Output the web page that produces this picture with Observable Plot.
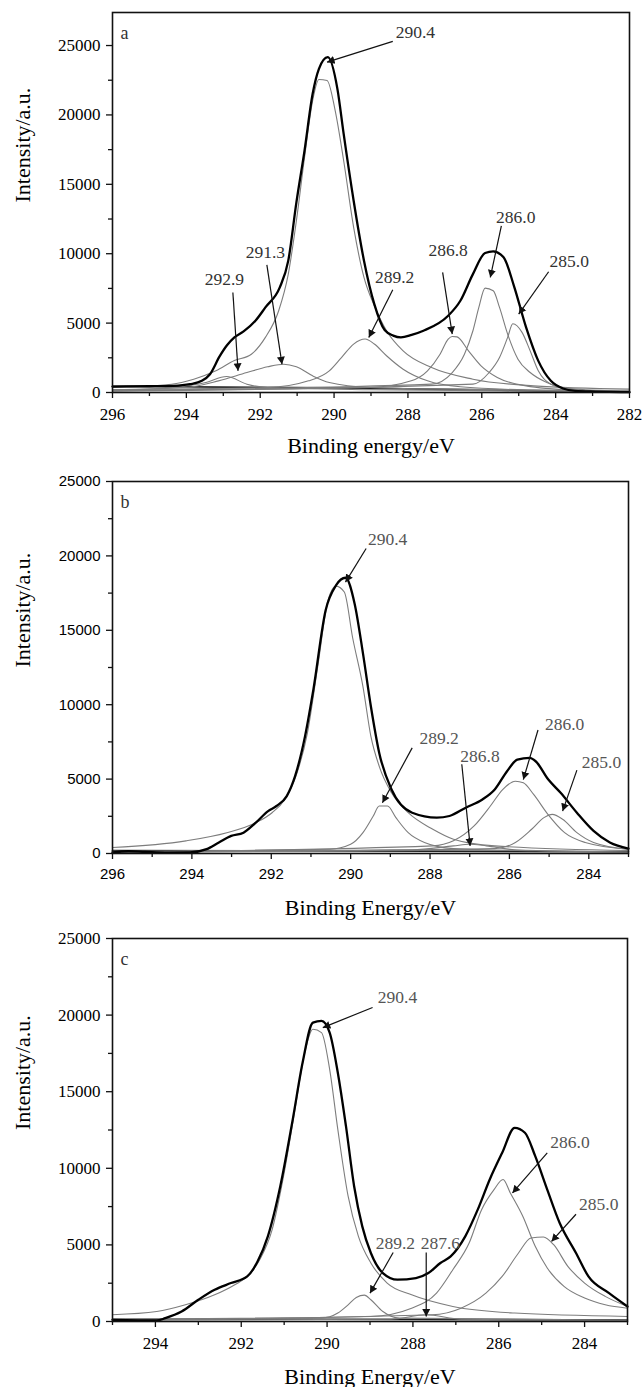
<!DOCTYPE html>
<html><head><meta charset="utf-8">
<script src="https://cdn.jsdelivr.net/npm/d3@7"></script>
<script src="https://cdn.jsdelivr.net/npm/@observablehq/plot@0.6"></script>
<style>
html,body{margin:0;padding:0;background:#fff;}
#charts svg{display:block;}
</style>
</head><body><div id="charts"></div>
<script>
// ---------- Panel a (binding energy eV, intensity a.u.) ----------
const aEnvelope = [[296,430],[295,450],[294.36,480],[293.9,600],[293.58,840],[293.36,1320],[293.1,2600],[292.9,3400],[292.7,3970],[292.45,4400],[292.13,5170],[291.86,6130],[291.47,7570],[291.24,9500],[291.02,13700],[290.8,17430],[290.58,21520],[290.41,23320],[290.17,24160],[289.91,21880],[289.74,18630],[289.47,13820],[289.19,9500],[288.91,6370],[288.63,4500],[288.4,4100],[288.19,3970],[287.9,4150],[287.58,4450],[286.91,5530],[286.58,6610],[286.24,8530],[285.91,10050],[285.69,10170],[285.41,9740],[285.13,7690],[284.8,4690],[284.47,2280],[284.13,840],[283.8,290],[283.47,120],[282.91,70],[282,25]];
const a290_4 = [[296,360],[294.4,600],[293.8,960],[293.2,1560],[292.7,2300],[292.24,2760],[291.86,3970],[291.5,5890],[291.24,8530],[291.02,12380],[290.8,16940],[290.58,21030],[290.41,22550],[290.19,22480],[289.97,20310],[289.74,16700],[289.47,11900],[289.19,8290],[288.91,6250],[288.58,4450],[288.13,3000],[287.36,1800],[286.24,960],[284.6,480],[282,240]];
const a292_9 = [[296,150],[294.36,360],[293.47,720],[292.91,1150],[292.36,600],[291.8,360],[289,200],[282,60]];
const a291_3 = [[296,200],[294.02,360],[293.13,840],[292.36,1440],[291.8,1850],[291.36,2040],[291.02,1850],[290.58,1200],[290.13,720],[289.02,360],[286.8,240],[282,100]];
const a289_2 = [[296,200],[291.8,360],[290.69,840],[290.13,1560],[289.8,2520],[289.47,3490],[289.16,3850],[288.91,3490],[288.58,2650],[288.13,1680],[287.47,840],[286.58,410],[284.58,170],[282,80]];
const a286_8 = [[296,150],[289.02,360],[287.91,840],[287.47,1560],[287.13,2760],[286.91,3850],[286.8,4040],[286.67,4010],[286.36,3000],[286.02,1920],[285.58,1080],[284.8,480],[283.47,170],[282,80]];
const a286_0 = [[296,150],[287.36,600],[286.8,1440],[286.47,2760],[286.24,4450],[286.08,6130],[285.91,7520],[285.69,7330],[285.52,6130],[285.3,4210],[285.02,2400],[284.69,1440],[284.24,720],[283.47,240],[282,80]];
const a285_0 = [[296,100],[286.24,600],[285.8,1440],[285.52,2520],[285.3,3970],[285.16,4950],[284.91,4330],[284.69,3000],[284.47,1560],[284.13,600],[283.47,170],[282,70]];
const aBackground = [[296,450],[290,330],[286,200],[284,80],[282,30]];
// label, label E, label I, arrow-from E, I, arrow-to E, I
const aNotes = [
  ["290.4",287.8,25960,288.41,25300,290.19,23800],
  ["292.9",292.97,8170,292.74,7200,292.6,1560],
  ["291.3",291.86,10100,291.82,9200,291.41,2040],
  ["289.2",288.36,8290,288.41,7400,289.06,3970],
  ["286.8",286.91,10220,287.06,8650,286.8,4210],
  ["286.0",285.08,12620,285.47,12000,285.77,8290],
  ["285.0",283.63,9420,284.19,8700,285.0,5650]
];

// ---------- Panel b ----------
const bEnvelope = [[296,70],[295.6,150],[295.19,110],[294.6,60],[294.05,70],[293.63,290],[293.32,740],[293.01,1180],[292.7,1400],[292.39,2070],[292.08,2850],[291.87,3190],[291.61,3860],[291.4,5200],[291.15,7870],[290.94,11000],[290.63,16350],[290.37,18020],[290.13,18530],[289.9,16790],[289.69,13450],[289.49,9880],[289.28,6760],[288.97,4300],[288.45,2740],[287.83,2410],[287.51,2520],[287.1,3080],[286.68,3630],[286.37,4300],[286.06,5530],[285.8,6310],[285.49,6420],[285.34,6200],[285.02,4970],[284.71,4080],[284.3,2740],[283.88,1520],[283.47,740],[283,330]];
const b290_4 = [[296,400],[294.15,850],[293.12,1400],[292.39,2070],[291.98,2740],[291.66,3630],[291.35,5420],[291.09,8090],[290.83,12550],[290.57,17010],[290.37,17970],[290.16,17570],[289.95,14500],[289.69,11220],[289.49,7870],[289.28,5860],[288.97,4080],[288.55,2740],[287.93,1630],[287.41,960],[286.37,510],[283,200]];
const b289_2 = [[296,150],[290.52,290],[290.0,620],[289.69,1400],[289.43,2520],[289.28,3190],[289.07,3190],[288.86,2410],[288.55,1400],[288.14,740],[287.41,330],[285.34,180],[283,100]];
const b286_8 = [[296,100],[288.45,250],[287.41,510],[287.0,620],[286.58,510],[285.85,250],[283,80]];
const b286_0 = [[296,100],[287.93,510],[287.41,850],[286.89,1850],[286.48,3190],[286.17,4300],[285.85,4860],[285.65,4750],[285.39,3970],[285.03,2630],[284.61,1400],[284.09,740],[283,290]];
const b285_0 = [[296,80],[286.37,330],[285.85,740],[285.44,1630],[285.13,2410],[284.92,2630],[284.66,2300],[284.3,1400],[283.88,740],[283,290]];
const bBackground = [[296,200],[290,170],[283,120]];
const bNotes = [
  ["290.4",289.07,21140,289.61,20500,290.13,18240],
  ["289.2",287.77,7760,288.45,7100,289.2,3410],
  ["286.8",286.74,6530,287.2,6000,286.99,510],
  ["286.0",284.61,8650,285.28,8300,285.65,4970],
  ["285.0",283.68,6090,284.3,5600,284.66,2850]
];

// ---------- Panel c ----------
const cEnvelope = [[295,110],[293.97,65],[293.77,220],[293.39,650],[293.0,1420],[292.62,2070],[292.24,2510],[291.86,2940],[291.62,3920],[291.38,5560],[291.09,8830],[290.8,13190],[290.57,16900],[290.33,19510],[290.13,19620],[289.94,18860],[289.75,16240],[289.56,12750],[289.37,8830],[289.18,6210],[288.98,4470],[288.7,3160],[288.36,2730],[287.93,2830],[287.64,3160],[287.36,3820],[287.12,4250],[286.78,5560],[286.49,7300],[286.21,9270],[285.92,11010],[285.63,12640],[285.39,12320],[285.15,10790],[284.87,8610],[284.58,6430],[284.2,4470],[283.91,2940],[283.43,1850],[283,980]];
const c290_4 = [[295,440],[293.97,650],[293.3,1090],[292.62,1740],[292.15,2400],[291.86,2940],[291.57,4030],[291.28,6000],[291.0,9700],[290.76,13630],[290.52,17550],[290.33,19080],[290.13,18860],[289.94,16460],[289.75,12540],[289.51,8180],[289.27,5560],[288.98,3820],[288.6,2510],[288.03,1740],[287.07,980],[285.63,550],[283,330]];
const c289_2 = [[295,100],[290.13,220],[289.75,550],[289.51,1090],[289.32,1570],[289.13,1720],[288.98,1420],[288.7,650],[288.31,220],[283,80]];
const c287_6 = [[295,80],[288.51,150],[287.69,440],[286.88,150],[283,50]];
const c286_0 = [[295,150],[288.98,330],[288.03,870],[287.45,1850],[287.07,3380],[286.69,5120],[286.4,7300],[286.11,8610],[285.9,9270],[285.73,8390],[285.44,6870],[285.15,4910],[284.87,3490],[284.48,2290],[284.0,1530],[283.52,1090],[283,870]];
const c285_0 = [[295,100],[287.55,440],[286.88,870],[286.3,1850],[285.92,2940],[285.54,4470],[285.25,5450],[284.96,5520],[284.72,5010],[284.39,3600],[284.0,2510],[283.52,1640],[283,980]];
const cBackground = [[295,150],[290,150],[283,100]];
const cNotes = [
  ["290.4",288.36,21150,288.94,20500,290.1,19180],
  ["289.2",288.41,5120,288.46,4500,289.0,1850],
  ["287.6",287.36,5120,287.69,4500,287.69,330],
  ["286.0",284.34,11660,284.87,11000,285.68,8390],
  ["285.0",283.67,7630,284.2,7000,284.77,5230]
];

// ---------- Axis ticks and texts ----------
const aXTicks = [296,294,292,290,288,286,284,282];
const aXMinor = [295,293,291,289,287,285,283];
const bXTicks = [296,294,292,290,288,286,284];
const bXMinor = [295,293,291,289,287,285,283];
const cXTicks = [294,292,290,288,286,284];
const cXMinor = [295,293,291,289,287,285,283];
const yTicks = [0,5000,10000,15000,20000,25000];
const yMinor = [2500,7500,12500,17500,22500];
const yTitle = "Intensity/a.u.";
const aXTitle = "Binding energy/eV";
const bXTitle = "Binding Energy/eV";
const cXTitle = "Binding Energy/eV";

const SERIF = "Liberation Serif, Times New Roman, serif";
const SANS = "Liberation Sans, Arial, sans-serif";

const rows = (pts) => pts.map(([E, I]) => ({E, I}));
const noteRows = (notes) => notes.map(([t, tE, tI, fE, fI, eE, eI]) => ({t, tE, tI, fE, fI, eE, eI}));

// filled triangular arrowhead marker
function filledHead(color, context) {
  const doc = (context && context.document) || document;
  const ns = "http://www.w3.org/2000/svg";
  const m = doc.createElementNS(ns, "marker");
  m.setAttribute("viewBox", "-6 -4 7 8");
  m.setAttribute("markerUnits", "userSpaceOnUse");
  m.setAttribute("markerWidth", "9");
  m.setAttribute("markerHeight", "10");
  m.setAttribute("refX", "0");
  m.setAttribute("refY", "0");
  m.setAttribute("orient", "auto");
  const p = doc.createElementNS(ns, "path");
  p.setAttribute("d", "M-6,-3.2L0,0L-6,3.2Z");
  p.setAttribute("fill", "#111");
  p.setAttribute("stroke", "none");
  m.appendChild(p);
  return m;
}

function panel(cfg, useMarker) {
  const comps = cfg.components.flatMap((pts, k) => pts.map(([E, I]) => ({E, I, k})));
  const notes = noteRows(cfg.notes);
  const arrowMark = useMarker
    ? Plot.link(notes, {x1: "fE", y1: "fI", x2: "eE", y2: "eI", stroke: "#111", strokeWidth: 1.2, markerEnd: filledHead})
    : Plot.arrow(notes, {x1: "fE", y1: "fI", x2: "eE", y2: "eI", stroke: "#111", strokeWidth: 1.2, headLength: 9, headAngle: 50});
  return Plot.plot({
    width: 644,
    height: cfg.height,
    marginTop: cfg.mt, marginBottom: cfg.mb, marginLeft: 112, marginRight: cfg.mr,
    x: {domain: cfg.xDomain, label: null},
    y: {domain: cfg.yDomain, label: null},
    style: {fontFamily: SERIF, fontSize: "17px", color: "#000", background: "#fff", overflow: "visible"},
    marks: [
      Plot.axisX({ticks: cfg.xTicks, tickSize: 6, tickPadding: 9, tickFormat: d => String(d), fontFamily: cfg.tickFont, fontSize: cfg.tickSize, stroke: "#111", strokeWidth: 1.3}),
      Plot.axisX({ticks: cfg.xMinor, tickSize: 4, tickFormat: () => "", stroke: "#111", strokeWidth: 1.3}),
      Plot.axisY({ticks: yTicks, tickSize: 6, tickPadding: 6, tickFormat: d => String(d), fontFamily: cfg.tickFont, fontSize: cfg.tickSize, stroke: "#111", strokeWidth: 1.3}),
      Plot.axisY({ticks: yMinor, tickSize: 4, tickFormat: () => "", stroke: "#111", strokeWidth: 1.3}),
      Plot.line(rows(cfg.background), {x: "E", y: "I", stroke: "#222", strokeWidth: 1.6}),
      Plot.line(comps, {x: "E", y: "I", z: "k", stroke: "#7d7d7d", strokeWidth: 1.1, curve: "monotone-x"}),
      Plot.line(rows(cfg.envelope), {x: "E", y: "I", stroke: "#000", strokeWidth: 2.3, curve: "monotone-x"}),
      Plot.frame({stroke: "#111", strokeWidth: 1.6}),
      arrowMark,
      Plot.text(notes, {x: "tE", y: "tI", text: "t", fill: cfg.noteColor, fontSize: 17.5, fontFamily: SERIF, lineAnchor: "middle"}),
      Plot.text([cfg.letter], {frameAnchor: "top-left", dx: 8, dy: 21, fontSize: 18, fontFamily: SERIF, textAnchor: "start", lineAnchor: "middle", fill: "#333"}),
      Plot.text([cfg.xTitle], {frameAnchor: "bottom", dy: cfg.titleDy, fontSize: 22, fontFamily: SERIF, lineAnchor: "middle"}),
      Plot.text([yTitle], {frameAnchor: "left", dx: -90, rotate: -90, fontSize: 22, fontFamily: SERIF, lineAnchor: "middle"})
    ]
  });
}

function safePanel(cfg) {
  try { return panel(cfg, true); } catch (e) { return panel(cfg, false); }
}

const host = document.getElementById("charts");
host.append(safePanel({
  height: 460, mt: 12, mb: 68, mr: 15,
  xDomain: [296, 282], yDomain: [0, 27380],
  xTicks: aXTicks, xMinor: aXMinor, tickFont: SERIF, tickSize: 17,
  envelope: aEnvelope, background: aBackground,
  components: [a290_4, a292_9, a291_3, a289_2, a286_8, a286_0, a285_0],
  notes: aNotes, noteColor: "#333", letter: "a", xTitle: aXTitle, titleDy: 53
}));
host.append(safePanel({
  height: 460, mt: 21, mb: 67, mr: 16,
  xDomain: [296, 283], yDomain: [0, 25000],
  xTicks: bXTicks, xMinor: bXMinor, tickFont: SANS, tickSize: 15,
  envelope: bEnvelope, background: bBackground,
  components: [b290_4, b289_2, b286_8, b286_0, b285_0],
  notes: bNotes, noteColor: "#555", letter: "b", xTitle: bXTitle, titleDy: 54
}));
host.append(safePanel({
  height: 467, mt: 18, mb: 66, mr: 17,
  xDomain: [295, 283], yDomain: [0, 25000],
  xTicks: cXTicks, xMinor: cXMinor, tickFont: SERIF, tickSize: 17,
  envelope: cEnvelope, background: cBackground,
  components: [c290_4, c289_2, c287_6, c286_0, c285_0],
  notes: cNotes, noteColor: "#555", letter: "c", xTitle: cXTitle, titleDy: 55
}));
</script>
</body></html>
